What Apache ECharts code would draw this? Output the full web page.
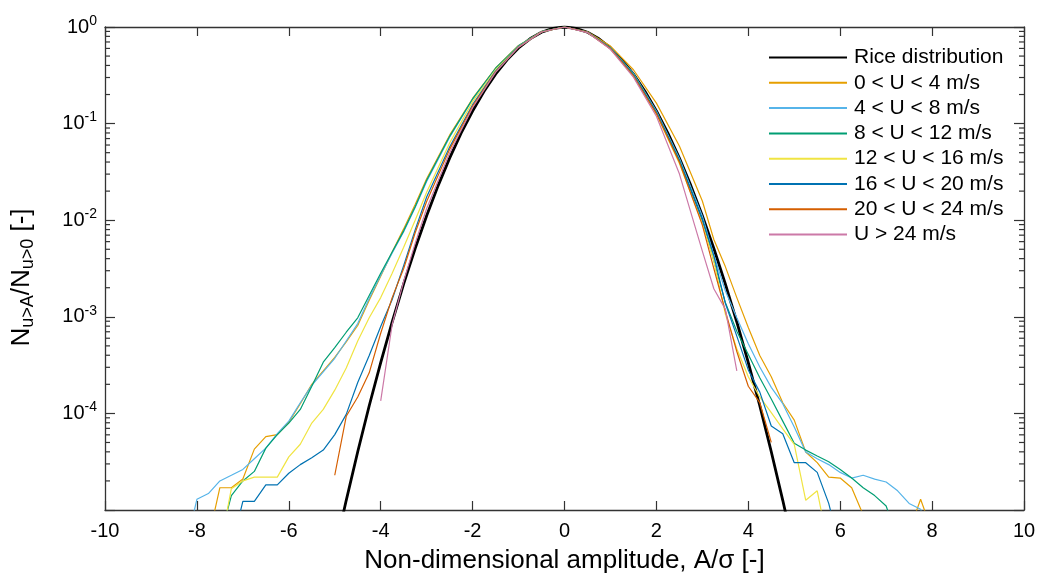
<!DOCTYPE html>
<html>
<head>
<meta charset="utf-8">
<script src="https://cdn.jsdelivr.net/npm/echarts@6/dist/echarts.min.js"></script>
<style>
html, body { margin: 0; padding: 0; background: #fff; }
#chart { width: 1042px; height: 579px; }
</style>
</head>
<body>
<div id="chart"></div>
<script>
// values
const riceX = [-5, -4.75, -4.5, -4.25, -4, -3.75, -3.5, -3.25, -3, -2.75, -2.5, -2.25, -2, -1.75, -1.5, -1.25, -1, -0.75, -0.5, -0.25,
  0, 0.25, 0.5, 0.75, 1, 1.25, 1.5, 1.75, 2, 2.25, 2.5, 2.75, 3, 3.25, 3.5, 3.75, 4, 4.25, 4.5, 4.75, 5]
const riceY = [3.73e-6, 1.26e-5, 4.01e-5, 1.20e-4, 3.35e-4, 8.84e-4, 2.19e-3, 5.09e-3, 0.0111, 0.0228, 0.0439, 0.0796, 0.135, 0.216, 0.325, 0.458, 0.607, 0.755, 0.882, 0.969,
  1, 0.969, 0.882, 0.755, 0.607, 0.458, 0.325, 0.216, 0.135, 0.0796, 0.0439, 0.0228, 0.0111, 5.09e-3, 2.19e-3, 8.84e-4, 3.35e-4, 1.20e-4, 4.01e-5, 1.26e-5, 3.73e-6]

const u0to4 = [[-7.75, 5.0e-6], [-7.5, 1.70e-5], [-7.25, 1.70e-5], [-7, 2.09e-5], [-6.75, 4.27e-5], [-6.5, 5.75e-5], [-6.25, 6.03e-5], [-6, 8.13e-5],
  [-5.75, 1.26e-4], [-5.5, 2.0e-4], [-5.25, 2.75e-4], [-5, 3.80e-4], [-4.75, 5.50e-4], [-4.5, 8.13e-4], [-4.25, 1.48e-3], [-4, 2.63e-3],
  [-3.75, 4.68e-3], [-3.5, 8.13e-3], [-3.25, 0.0145], [-3, 0.0269], [-2.5, 0.0759], [-2, 0.182], [-1.5, 0.376], [-1, 0.643], [-0.5, 0.895], [0, 1],
  [0.5, 0.893], [1, 0.635], [1.5, 0.361], [2, 0.163], [2.5, 0.0587], [3, 0.0158], [3.25, 6.31e-3], [3.5, 3.31e-3], [3.75, 1.58e-3], [4, 7.76e-4],
  [4.25, 3.98e-4], [4.5, 2.40e-4], [4.75, 1.29e-4], [5, 8.51e-5], [5.25, 3.98e-5], [5.5, 3.09e-5], [5.75, 2.19e-5], [6, 2.14e-5], [6.25, 1.70e-5],
  [6.5, 8.91e-6], [7.5, 6.03e-6], [7.75, 1.29e-5], [8, 6.03e-6]]

const u4to8 = [[-8.25, 3.98e-6], [-8, 1.29e-5], [-7.75, 1.48e-5], [-7.5, 2.0e-5], [-7.25, 2.29e-5], [-7, 2.63e-5], [-6.75, 3.39e-5], [-6.5, 4.37e-5],
  [-6.25, 6.17e-5], [-6, 8.32e-5], [-5.75, 1.29e-4], [-5.5, 1.95e-4], [-5.25, 2.69e-4], [-5, 3.72e-4], [-4.75, 5.62e-4], [-4.5, 8.51e-4],
  [-4.25, 1.55e-3], [-4, 2.69e-3], [-3.75, 4.57e-3], [-3.5, 7.59e-3], [-3.25, 0.0135], [-3, 0.0251], [-2.5, 0.0724], [-2, 0.178], [-1.5, 0.372],
  [-1, 0.638], [-0.5, 0.893], [0, 1], [0.5, 0.885], [1, 0.610], [1.5, 0.331], [2, 0.135], [2.5, 0.0437], [3, 0.0110], [3.25, 4.37e-3],
  [3.5, 1.86e-3], [3.75, 9.77e-4], [4, 5.25e-4], [4.25, 3.02e-4], [4.5, 1.86e-4], [4.75, 1.26e-4], [5, 7.24e-5], [5.25, 3.98e-5], [5.5, 3.39e-5],
  [5.75, 2.95e-5], [6, 2.45e-5], [6.25, 2.14e-5], [6.5, 2.29e-5], [6.75, 2.09e-5], [7, 1.95e-5], [7.25, 1.58e-5], [7.5, 1.17e-5], [7.75, 1.02e-5], [8, 3.98e-6]]

const u8to12 = [[-7.5, 5.0e-6], [-7.25, 1.41e-5], [-7, 2.0e-5], [-6.75, 2.51e-5], [-6.5, 4.37e-5], [-6.25, 6.03e-5], [-6, 7.94e-5], [-5.75, 1.10e-4],
  [-5.5, 1.91e-4], [-5.25, 3.39e-4], [-5, 4.79e-4], [-4.75, 6.92e-4], [-4.5, 9.77e-4], [-4.25, 1.66e-3], [-4, 2.82e-3], [-3.75, 4.68e-3],
  [-3.5, 7.76e-3], [-3.25, 0.0138], [-3, 0.0259], [-2.5, 0.0738], [-2, 0.180], [-1.5, 0.374], [-1, 0.641], [-0.5, 0.895], [0, 1],
  [0.5, 0.883], [1, 0.603], [1.5, 0.324], [2, 0.130], [2.5, 0.0417], [3, 0.0100], [3.25, 3.80e-3], [3.5, 1.41e-3], [3.75, 7.08e-4], [4, 4.07e-4],
  [4.25, 2.34e-4], [4.5, 1.41e-4], [4.75, 8.32e-5], [5, 4.90e-5], [5.25, 4.17e-5], [5.5, 3.63e-5], [5.75, 3.16e-5], [6, 2.63e-5], [6.25, 2.14e-5],
  [6.5, 1.70e-5], [6.75, 1.41e-5], [7, 1.10e-5], [7.25, 5.0e-6]]

const u12to16 = [[-7.5, 3.98e-6], [-7.25, 1.66e-5], [-7, 2.0e-5], [-6.75, 2.19e-5], [-6.5, 2.19e-5], [-6.25, 2.19e-5], [-6, 3.55e-5], [-5.75, 4.79e-5],
  [-5.5, 7.94e-5], [-5.25, 1.10e-4], [-5, 1.74e-4], [-4.75, 2.95e-4], [-4.5, 5.62e-4], [-4.25, 9.77e-4], [-4, 1.58e-3], [-3.75, 2.82e-3],
  [-3.5, 5.25e-3], [-3.25, 0.0100], [-3, 0.0195], [-2.5, 0.0631], [-2, 0.169], [-1.5, 0.361], [-1, 0.630], [-0.5, 0.891], [0, 1],
  [0.5, 0.878], [1, 0.594], [1.5, 0.310], [2, 0.125], [2.5, 0.0386], [3, 9.33e-3], [3.25, 3.80e-3], [3.5, 1.07e-3], [3.75, 4.68e-4], [4, 2.40e-4],
  [4.25, 1.48e-4], [4.5, 1.02e-4], [4.75, 6.92e-5], [5, 4.79e-5], [5.25, 1.26e-5], [5.5, 1.58e-5], [5.75, 3.98e-6]]

const u16to20 = [[-7.25, 3.98e-6], [-7, 1.23e-5], [-6.75, 1.23e-5], [-6.5, 1.82e-5], [-6.25, 1.82e-5], [-6, 2.40e-5], [-5.75, 2.95e-5], [-5.5, 3.47e-5],
  [-5.25, 4.17e-5], [-5, 6.03e-5], [-4.75, 9.77e-5], [-4.5, 2.09e-4], [-4.25, 3.98e-4], [-4, 7.94e-4], [-3.75, 1.51e-3], [-3.5, 3.39e-3],
  [-3.25, 7.94e-3], [-3, 0.0174], [-2.5, 0.0571], [-2, 0.157], [-1.5, 0.350], [-1, 0.624], [-0.5, 0.889], [0, 1],
  [0.5, 0.880], [1, 0.600], [1.5, 0.317], [2, 0.130], [2.5, 0.0412], [3, 0.0101], [3.25, 4.27e-3], [3.5, 1.38e-3], [3.75, 6.31e-4], [4, 2.82e-4],
  [4.25, 1.66e-4], [4.5, 7.41e-5], [4.75, 6.17e-5], [5, 3.09e-5], [5.25, 3.09e-5], [5.5, 2.45e-5], [5.75, 1.17e-5], [6, 3.98e-6]]

const u20to24 = [[-5, 2.29e-5], [-4.75, 9.33e-5], [-4.5, 1.48e-4], [-4.25, 2.63e-4], [-4, 6.76e-4], [-3.75, 1.58e-3], [-3.5, 3.16e-3],
  [-3.25, 7.41e-3], [-3, 0.0156], [-2.5, 0.0541], [-2, 0.152], [-1.5, 0.343], [-1, 0.618], [-0.5, 0.887], [0, 1],
  [0.5, 0.879], [1, 0.597], [1.5, 0.313], [2, 0.127], [2.5, 0.0398], [3, 8.91e-3], [3.25, 3.16e-3], [3.5, 1.15e-3], [3.75, 4.37e-4],
  [4, 1.91e-4], [4.25, 1.29e-4], [4.5, 5.01e-5]]

const uOver24 = [[-4, 1.35e-4], [-3.75, 8.32e-4], [-3.5, 2.34e-3], [-3.25, 5.75e-3], [-3, 0.0132], [-2.5, 0.0497], [-2, 0.146], [-1.5, 0.339],
  [-1, 0.618], [-0.5, 0.887], [0, 1], [0.5, 0.875], [1, 0.587], [1.5, 0.303], [2, 0.119], [2.5, 0.0302], [3, 4.79e-3], [3.25, 1.95e-3],
  [3.5, 1.20e-3], [3.75, 2.75e-4]]

const legendNames = ['Rice distribution', '0 < U < 4 m/s', '4 < U < 8 m/s', '8 < U < 12 m/s', '12 < U < 16 m/s', '16 < U < 20 m/s', '20 < U < 24 m/s', 'U > 24 m/s']
const lineColors = ['#000000', '#E69F00', '#56B4E9', '#009E73', '#F0E442', '#0072B2', '#D55E00', '#CC79A7']
const minorMantissa = [2, 3, 4, 5, 6, 7, 8, 9]
const decades = [1e-5, 1e-4, 1e-3, 1e-2, 1e-1]

const FONT = 'Liberation Sans, Arial, sans-serif'
const AXIS_COLOR = '#333'

const riceData = riceX.map((x, i) => [x, riceY[i]])
const measured = [u0to4, u4to8, u8to12, u12to16, u16to20, u20to24, uOver24]

const minorTicks = []
decades.forEach(d => minorMantissa.forEach(m => minorTicks.push([-10, m * d])))

const lineSeries = [riceData].concat(measured).map((data, i) => ({
  name: legendNames[i],
  type: 'line',
  data: data,
  showSymbol: false,
  symbol: 'none',
  clip: true,
  lineStyle: { color: lineColors[i], width: i === 0 ? 2.8 : 1.2 },
  itemStyle: { color: lineColors[i] },
  z: 3 + i
}))

const yLog = {
  type: 'log',
  logBase: 10,
  min: 1e-5,
  max: 1,
  splitNumber: 5,
  axisLine: { show: true, onZero: false, lineStyle: { color: AXIS_COLOR, width: 1.3 } },
  axisTick: { show: true, inside: true, length: 10, lineStyle: { color: AXIS_COLOR, width: 1.2 } },
  splitLine: { show: false }
}

const xLin = {
  type: 'value',
  min: -10,
  max: 10,
  interval: 2,
  axisLine: { show: true, onZero: false, lineStyle: { color: AXIS_COLOR, width: 1.3 } },
  axisTick: { show: true, inside: true, length: 9, lineStyle: { color: AXIS_COLOR, width: 1.2 } },
  splitLine: { show: false }
}

const option = {
  backgroundColor: '#fff',
  animation: false,
  grid: { left: 105, right: 18, top: 27, bottom: 68, containLabel: false },
  legend: {
    data: legendNames,
    orient: 'vertical',
    left: 768,
    top: 47,
    padding: 0,
    itemWidth: 78,
    itemHeight: 14,
    itemGap: 4.3,
    itemStyle: { opacity: 0 },
    textStyle: { fontFamily: FONT, fontSize: 21, color: '#000', lineHeight: 20, padding: [0, 0, 0, 2] }
  },
  xAxis: [
    Object.assign({}, xLin, {
      position: 'bottom',
      name: 'Non-dimensional amplitude, A/σ [-]',
      nameLocation: 'middle',
      nameGap: 38,
      nameTextStyle: { fontFamily: FONT, fontSize: 26, color: '#000' },
      axisLabel: { fontFamily: FONT, fontSize: 20, color: '#000', margin: 11 }
    }),
    Object.assign({}, xLin, { position: 'top', axisLabel: { show: false } })
  ],
  yAxis: [
    Object.assign({}, yLog, {
      position: 'left',
      name: '{n|N}{sub|u>A}{n|/N}{sub|u>0}{end| [-]}',
      nameLocation: 'middle',
      nameRotate: 90,
      nameGap: 68,
      nameTextStyle: {
        rich: {
          n: { fontFamily: FONT, fontSize: 26, color: '#000' },
          end: { fontFamily: FONT, fontSize: 26, color: '#000', padding: [0, 18, 0, 0] },
          sub: { fontFamily: FONT, fontSize: 18, color: '#000', padding: [12, 0, 0, 0] }
        }
      },
      axisLabel: {
        margin: 8,
        formatter: function (v) {
          const e = Math.round(Math.log10(v))
          if (e === -5) return ''
          return '{b|10}{s|' + e + '}'
        },
        rich: {
          b: { fontFamily: FONT, fontSize: 20, color: '#000' },
          s: { fontFamily: FONT, fontSize: 14, color: '#000', padding: [0, 0, 12, 0] }
        }
      }
    }),
    Object.assign({}, yLog, { position: 'right', axisLabel: { show: false } })
  ],
  series: lineSeries.concat([{
    type: 'custom',
    name: 'minor',
    silent: true,
    xAxisIndex: 0,
    yAxisIndex: 0,
    z: 1,
    data: minorTicks,
    renderItem: function (params, api) {
      const cs = params.coordSys
      const y = api.coord([api.value(0), api.value(1)])[1]
      const st = { stroke: AXIS_COLOR, lineWidth: 1.2 }
      return {
        type: 'group',
        children: [
          { type: 'line', shape: { x1: cs.x, y1: y, x2: cs.x + 5, y2: y }, style: st },
          { type: 'line', shape: { x1: cs.x + cs.width - 5, y1: y, x2: cs.x + cs.width, y2: y }, style: st }
        ]
      }
    }
  }])
}

const chart = echarts.init(document.getElementById('chart'))
chart.setOption(option, true)
</script>
</body>
</html>
